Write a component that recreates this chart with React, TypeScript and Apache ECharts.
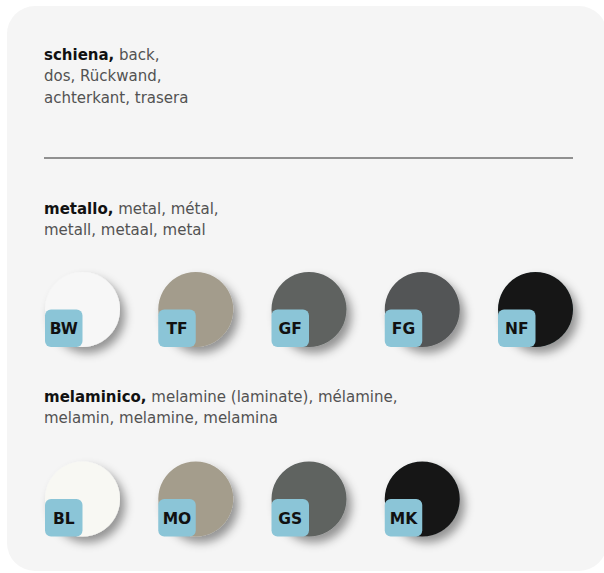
import React, { useEffect, useRef } from "react";
import * as echarts from "echarts";

const metalCodes = ["BW", "TF", "GF", "FG", "NF"];
const metalColors = ["#f7f7f7", "#a39c8c", "#5e6260", "#535556", "#131719"];
const melamineCodes = ["BL", "MO", "GS", "MK"];
const melamineColors = ["#f8f8f3", "#a49d8c", "#5f6361", "#131719"];

const backTitle = "schiena,";
const backLines = [" back,", "dos, Rückwand,", "achterkant, trasera"];
const metalTitle = "metallo,";
const metalLines = [" metal, métal,", "metall, metaal, metal"];
const melTitle = "melaminico,";
const melLines = [" melamine (laminate), mélamine,", "melamin, melamine, melamina"];

const FONT = '"DejaVu Sans", sans-serif';

function heading(title: string, lines: string[], x: number, y: number, lh: number) {
  const text = `{b|${title}}{n|${lines[0]}}\n` + lines.slice(1).map((l) => `{n|${l}}`).join("\n");
  return {
    type: "text",
    left: x,
    top: y,
    style: {
      text,
      rich: {
        b: { fontFamily: FONT, fontWeight: "bold", fontSize: 15, fill: "#111111", lineHeight: lh },
        n: { fontFamily: FONT, fontSize: 15, fill: "#525252", lineHeight: lh },
      },
    },
  };
}

export default function App() {
  const ref = useRef<HTMLDivElement>(null);
  useEffect(() => {
    if (!ref.current) return;
    const chart = echarts.init(ref.current, null, { renderer: "svg" });
    const data: any[] = [];
    metalCodes.forEach((c, i) => data.push([i, 0, c, metalColors[i]]));
    melamineCodes.forEach((c, i) => data.push([i, 1, c, melamineColors[i]]));
    const R = 37.5;
    chart.setOption({
      animation: false,
      backgroundColor: "#ffffff",
      grid: { left: 82.5, right: 68.5, top: 309.5, bottom: 74 },
      xAxis: { type: "value", min: 0, max: 4, show: false },
      yAxis: { type: "value", min: 0, max: 1, inverse: true, show: false },
      graphic: [
        {
          type: "rect",
          z: -10,
          shape: { x: 7, y: 6, width: 600, height: 565, r: 28 },
          style: { fill: "#f5f5f5" },
        },
        {
          type: "line",
          shape: { x1: 44, y1: 158, x2: 573, y2: 158 },
          style: { stroke: "#6e6e6e", lineWidth: 1.5 },
        },
        heading(backTitle, backLines, 44, 47, 21.5),
        heading(metalTitle, metalLines, 44, 201, 21.5),
        heading(melTitle, melLines, 44, 389, 21.5),
      ],
      series: [
        {
          type: "custom",
          data,
          renderItem: (params: any, api: any) => {
            const [cx, cy] = api.coord([api.value(0), api.value(1)]);
            const d = data[params.dataIndex];
            return {
              type: "group",
              children: [
                {
                  type: "circle",
                  shape: { cx, cy, r: R },
                  style: {
                    fill: d[3],
                    shadowBlur: 10,
                    shadowOffsetX: 5,
                    shadowOffsetY: 6,
                    shadowColor: "rgba(0,0,0,0.4)",
                  },
                },
                {
                  type: "rect",
                  shape: { x: cx - R, y: cy, width: R, height: R, r: 6 },
                  style: { fill: "#8bc5d7" },
                },
                {
                  type: "text",
                  style: {
                    text: d[2],
                    x: cx - R / 2,
                    y: cy + R / 2 + 1,
                    align: "center",
                    verticalAlign: "middle",
                    fontFamily: FONT,
                    fontWeight: "bold",
                    fontSize: 15.5,
                    fill: "#111111",
                  },
                },
              ],
            };
          },
        },
      ],
    });
    return () => chart.dispose();
  }, []);
  return (
    <div
      ref={ref}
      style={{ position: "fixed", left: 0, top: 0, width: 604, height: 573 }}
    />
  );
}
